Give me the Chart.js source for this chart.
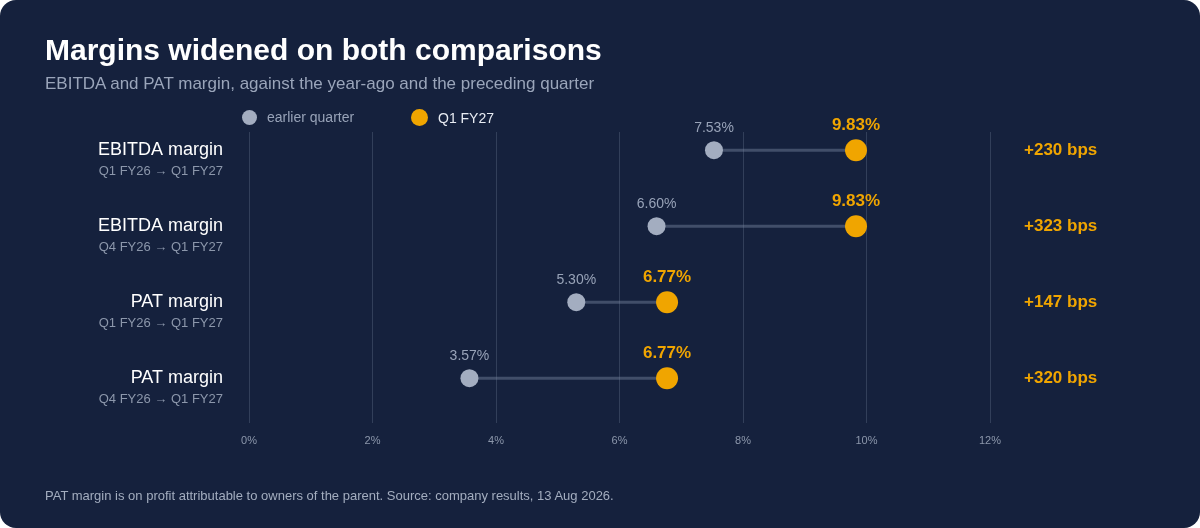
<!DOCTYPE html>
<html>
<head>
<meta charset="utf-8">
<script src="https://cdn.jsdelivr.net/npm/chart.js@4.4.1/dist/chart.umd.min.js"></script>
<style>
  html, body { margin: 0; padding: 0; background: #ffffff; }
  body { font-family: "Liberation Sans", Arial, sans-serif; }
  .card {
    position: relative; width: 1200px; height: 528px;
    background: #15213d; border-radius: 16px; overflow: hidden;
  }
  .title { position: absolute; left: 45px; top: 33px; color: #ffffff; font-size: 30px; font-weight: bold; }
  .subtitle { position: absolute; left: 45px; top: 74px; color: #9aa5ba; font-size: 17px; }
  .legend { position: absolute; top: 109px; font-size: 14px; display: flex; align-items: center; }
  .legend .dot { width: 15px; height: 15px; border-radius: 50%; margin-right: 10px; }
  .footer { position: absolute; left: 45px; top: 488px; color: #a3adbf; font-size: 13px; }
  .chartbox { position: absolute; left: 0; top: 0; width: 1200px; height: 528px; }
</style>
</head>
<body>
<div class="card">
  <div class="chartbox"><canvas id="dumbbell"></canvas></div>
  <div class="title">Margins widened on both comparisons</div>
  <div class="subtitle">EBITDA and PAT margin, against the year-ago and the preceding quarter</div>
  <div class="legend" style="left:242px"><span class="dot" style="background:#a3adc0"></span><span style="color:#98a3b8">earlier quarter</span></div>
  <div class="legend" style="left:411px"><span class="dot" style="background:#f0a500;width:17px;height:17px"></span><span style="color:#e8ecf3">Q1 FY27</span></div>
  <div class="footer">PAT margin is on profit attributable to owners of the parent. Source: company results, 13 Aug 2026.</div>
</div>
<script>
// rows, top to bottom
const metrics = ['EBITDA margin', 'EBITDA margin', 'PAT margin', 'PAT margin'];
const periods = ['Q1 FY26 \u2192 Q1 FY27', 'Q4 FY26 \u2192 Q1 FY27', 'Q1 FY26 \u2192 Q1 FY27', 'Q4 FY26 \u2192 Q1 FY27'];
const earlier = [7.53, 6.60, 5.30, 3.57];
const current = [9.83, 9.83, 6.77, 6.77];
const xTicks = [0, 2, 4, 6, 8, 10, 12];

const GREY = '#a3adc0';
const GOLD = '#f0a500';
const FONT = '"Liberation Sans", Arial, sans-serif';

// connectors, row labels, value labels and bps change
const dumbbellExtras = {
    id: 'dumbbellExtras',
    beforeDatasetsDraw(chart) {
        const ctx = chart.ctx;
        const a = chart.getDatasetMeta(0).data;
        const b = chart.getDatasetMeta(1).data;
        ctx.save();
        ctx.strokeStyle = 'rgba(120, 134, 160, 0.45)';
        ctx.lineWidth = 3;
        a.forEach((p, i) => {
            ctx.beginPath();
            ctx.moveTo(p.x, p.y);
            ctx.lineTo(b[i].x, b[i].y);
            ctx.stroke();
        });
        ctx.restore();
    },
    afterDatasetsDraw(chart) {
        const ctx = chart.ctx;
        const a = chart.getDatasetMeta(0).data;
        const b = chart.getDatasetMeta(1).data;
        ctx.save();
        ctx.textBaseline = 'middle';
        a.forEach((p, i) => {
            const y = p.y;
            // left labels
            ctx.textAlign = 'right';
            ctx.fillStyle = '#ffffff';
            ctx.font = '18px ' + FONT;
            ctx.fillText(metrics[i], 223, y);
            ctx.fillStyle = '#8c97ab';
            ctx.font = '13px ' + FONT;
            ctx.fillText(periods[i], 223, y + 21);
            // value labels
            ctx.textAlign = 'center';
            ctx.fillStyle = '#98a3b8';
            ctx.font = '14px ' + FONT;
            ctx.fillText(earlier[i].toFixed(2) + '%', p.x, y - 22);
            ctx.fillStyle = GOLD;
            ctx.font = 'bold 17px ' + FONT;
            ctx.fillText(current[i].toFixed(2) + '%', b[i].x, y - 25);
            // change in bps
            const bps = Math.round((current[i] - earlier[i]) * 100);
            ctx.textAlign = 'left';
            ctx.fillText('+' + bps + ' bps', 1024, y);
        });
        ctx.restore();
    }
};

new Chart(document.getElementById('dumbbell').getContext('2d'), {
    type: 'scatter',
    data: {
        datasets: [{
            label: 'earlier quarter',
            data: earlier.map((v, i) => ({ x: v, y: i })),
            backgroundColor: GREY,
            borderWidth: 0,
            pointRadius: 9,
            pointHoverRadius: 9
        }, {
            label: 'Q1 FY27',
            data: current.map((v, i) => ({ x: v, y: i })),
            backgroundColor: GOLD,
            borderWidth: 0,
            pointRadius: 11,
            pointHoverRadius: 11
        }]
    },
    options: {
        responsive: true,
        maintainAspectRatio: false,
        animation: false,
        layout: {
            padding: { left: 249, right: 210, top: 132, bottom: 0 }
        },
        scales: {
            x: {
                type: 'linear',
                min: 0,
                max: 12,
                afterBuildTicks: scale => {
                    scale.ticks = xTicks.map(v => ({ value: v }));
                },
                afterFit: scale => { scale.height = 105; },
                border: { display: false },
                grid: {
                    color: 'rgba(120, 134, 160, 0.3)',
                    lineWidth: 1,
                    drawTicks: false
                },
                ticks: {
                    color: '#8c97ab',
                    padding: 11,
                    font: { size: 11, family: FONT },
                    callback: v => v + '%'
                }
            },
            y: {
                type: 'linear',
                reverse: true,
                min: -0.24,
                max: 3.59,
                display: false
            }
        },
        plugins: {
            legend: { display: false },
            tooltip: { enabled: false }
        }
    },
    plugins: [dumbbellExtras]
});
</script>
</body>
</html>
